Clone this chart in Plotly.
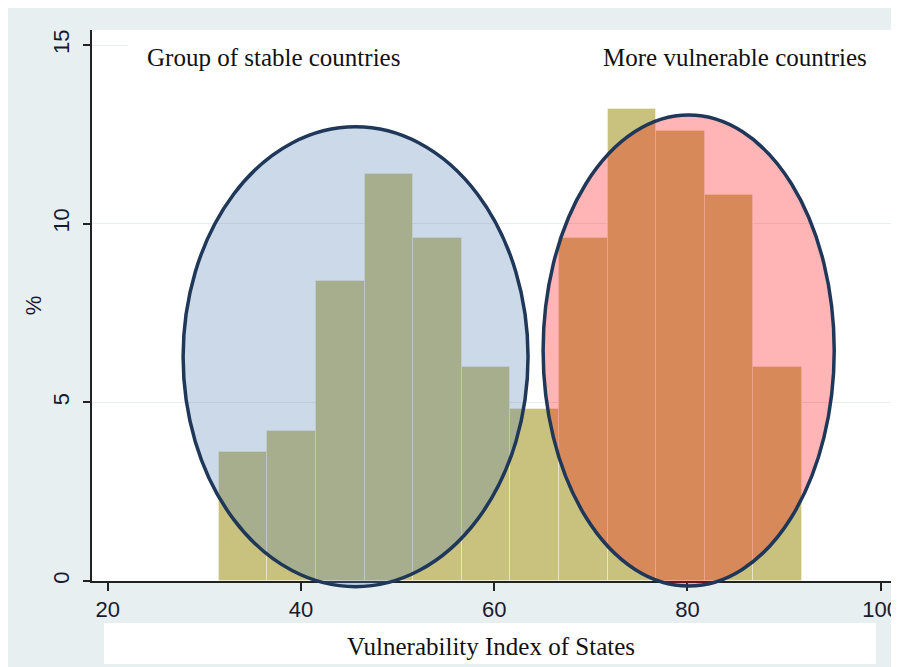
import plotly.graph_objects as go

# ---- data ----
bin_start = 31.5
bin_width = 5.03
percent = [3.6, 4.2, 8.4, 11.4, 9.6, 6.0, 4.8, 9.6, 13.2, 12.6, 10.8, 6.0]
bin_centers = [bin_start + bin_width * (i + 0.5) for i in range(len(percent))]

x_ticks = [20, 40, 60, 80, 100]
y_ticks = [0, 5, 10, 15]
x_range = [18.37, 101.48]
y_range = [0, 15.42]

# ellipses (data units): x0, x1, y0, y1
stable_ellipse = [27.8, 63.5, -0.16, 12.71]
vulnerable_ellipse = [65.06, 95.19, -0.14, 13.04]

label_stable = "Group of stable countries"
label_vulnerable = "More vulnerable countries"
x_title = "Vulnerability Index of States"
y_title = "%"

# ---- layout geometry (pixels, figure coordinates; page body adds 8px offset) ----
OFF = 8
W, H = 899, 667
ML, MR, MT, MB = 84, 12, 22, 94
PW, PH = W - ML - MR, H - MT - MB


def px_x(p):
    # p given in screen pixels
    return (p - OFF - ML) / PW


def px_y(p):
    return (H - MB - (p - OFF)) / PH


def data_to_paper_y(v):
    return (v - y_range[0]) / (y_range[1] - y_range[0])


LIGHT = "#e8eff1"
SERIF = "Liberation Serif, Times New Roman, serif"
SANS = "Liberation Sans, Arial, sans-serif"
TICK_COLOR = "#1a1a2e"

fig = go.Figure()
fig.add_trace(go.Bar(
    x=bin_centers, y=percent, width=bin_width,
    marker=dict(color="#c9c27f", line=dict(color="rgba(255,255,255,0.35)", width=1)),
    hoverinfo="skip", showlegend=False,
))

shapes = []
# ellipses
for ell, fill in [(stable_ellipse, "rgba(85,128,178,0.30)"),
                  (vulnerable_ellipse, "rgba(255,0,0,0.29)")]:
    shapes.append(dict(type="circle", xref="x", yref="paper", layer="above",
                       x0=ell[0], x1=ell[1],
                       y0=data_to_paper_y(ell[2]), y1=data_to_paper_y(ell[3]),
                       fillcolor=fill, line=dict(color="#1f3759", width=3.5)))
# top white text box
shapes.append(dict(type="rect", xref="paper", yref="paper", layer="above",
                   x0=px_x(128), x1=px_x(W + OFF), y0=px_y(78), y1=px_y(30),
                   fillcolor="white", line=dict(width=0)))
# x-title white box
shapes.append(dict(type="rect", xref="paper", yref="paper", layer="above",
                   x0=px_x(104), x1=px_x(876), y0=px_y(664), y1=px_y(623),
                   fillcolor="white", line=dict(width=0)))

annotations = [
    dict(text=label_stable, xref="paper", yref="paper",
         x=px_x(273.5), y=px_y(57), xanchor="center", yanchor="middle",
         showarrow=False, font=dict(family=SERIF, size=25, color="#111")),
    dict(text=label_vulnerable, xref="paper", yref="paper",
         x=px_x(734.5), y=px_y(57), xanchor="center", yanchor="middle",
         showarrow=False, font=dict(family=SERIF, size=25, color="#111")),
    dict(text=x_title, xref="paper", yref="paper",
         x=px_x(490.5), y=px_y(646), xanchor="center", yanchor="middle",
         showarrow=False, font=dict(family=SERIF, size=25, color="#111")),
]

fig.update_layout(
    width=W, height=H,
    margin=dict(l=ML, r=MR, t=MT, b=MB, autoexpand=False),
    paper_bgcolor=LIGHT, plot_bgcolor="white",
    bargap=0, showlegend=False,
    shapes=shapes, annotations=annotations,
    font=dict(family=SANS, color=TICK_COLOR),
    xaxis=dict(range=x_range, tickvals=x_ticks, ticks="outside", ticklen=8,
               tickwidth=1.5, tickcolor="#222", showline=True, linecolor="#222",
               linewidth=1.6, showgrid=False, zeroline=False,
               tickfont=dict(family=SANS, size=22, color=TICK_COLOR), fixedrange=True),
    yaxis=dict(range=y_range, tickvals=y_ticks, ticks="outside", ticklen=7,
               tickwidth=1.5, tickcolor="#222", showline=True, linecolor="#222",
               linewidth=1.6, showgrid=True, gridcolor="#e9eef1", gridwidth=1,
               zeroline=False, tickangle=-90, ticklabelstandoff=5,
               tickfont=dict(family=SANS, size=22, color=TICK_COLOR),
               title=dict(text=y_title, standoff=2,
                          font=dict(family=SANS, size=22, color=TICK_COLOR)),
               fixedrange=True),
)

fig.write_html("out.html")
